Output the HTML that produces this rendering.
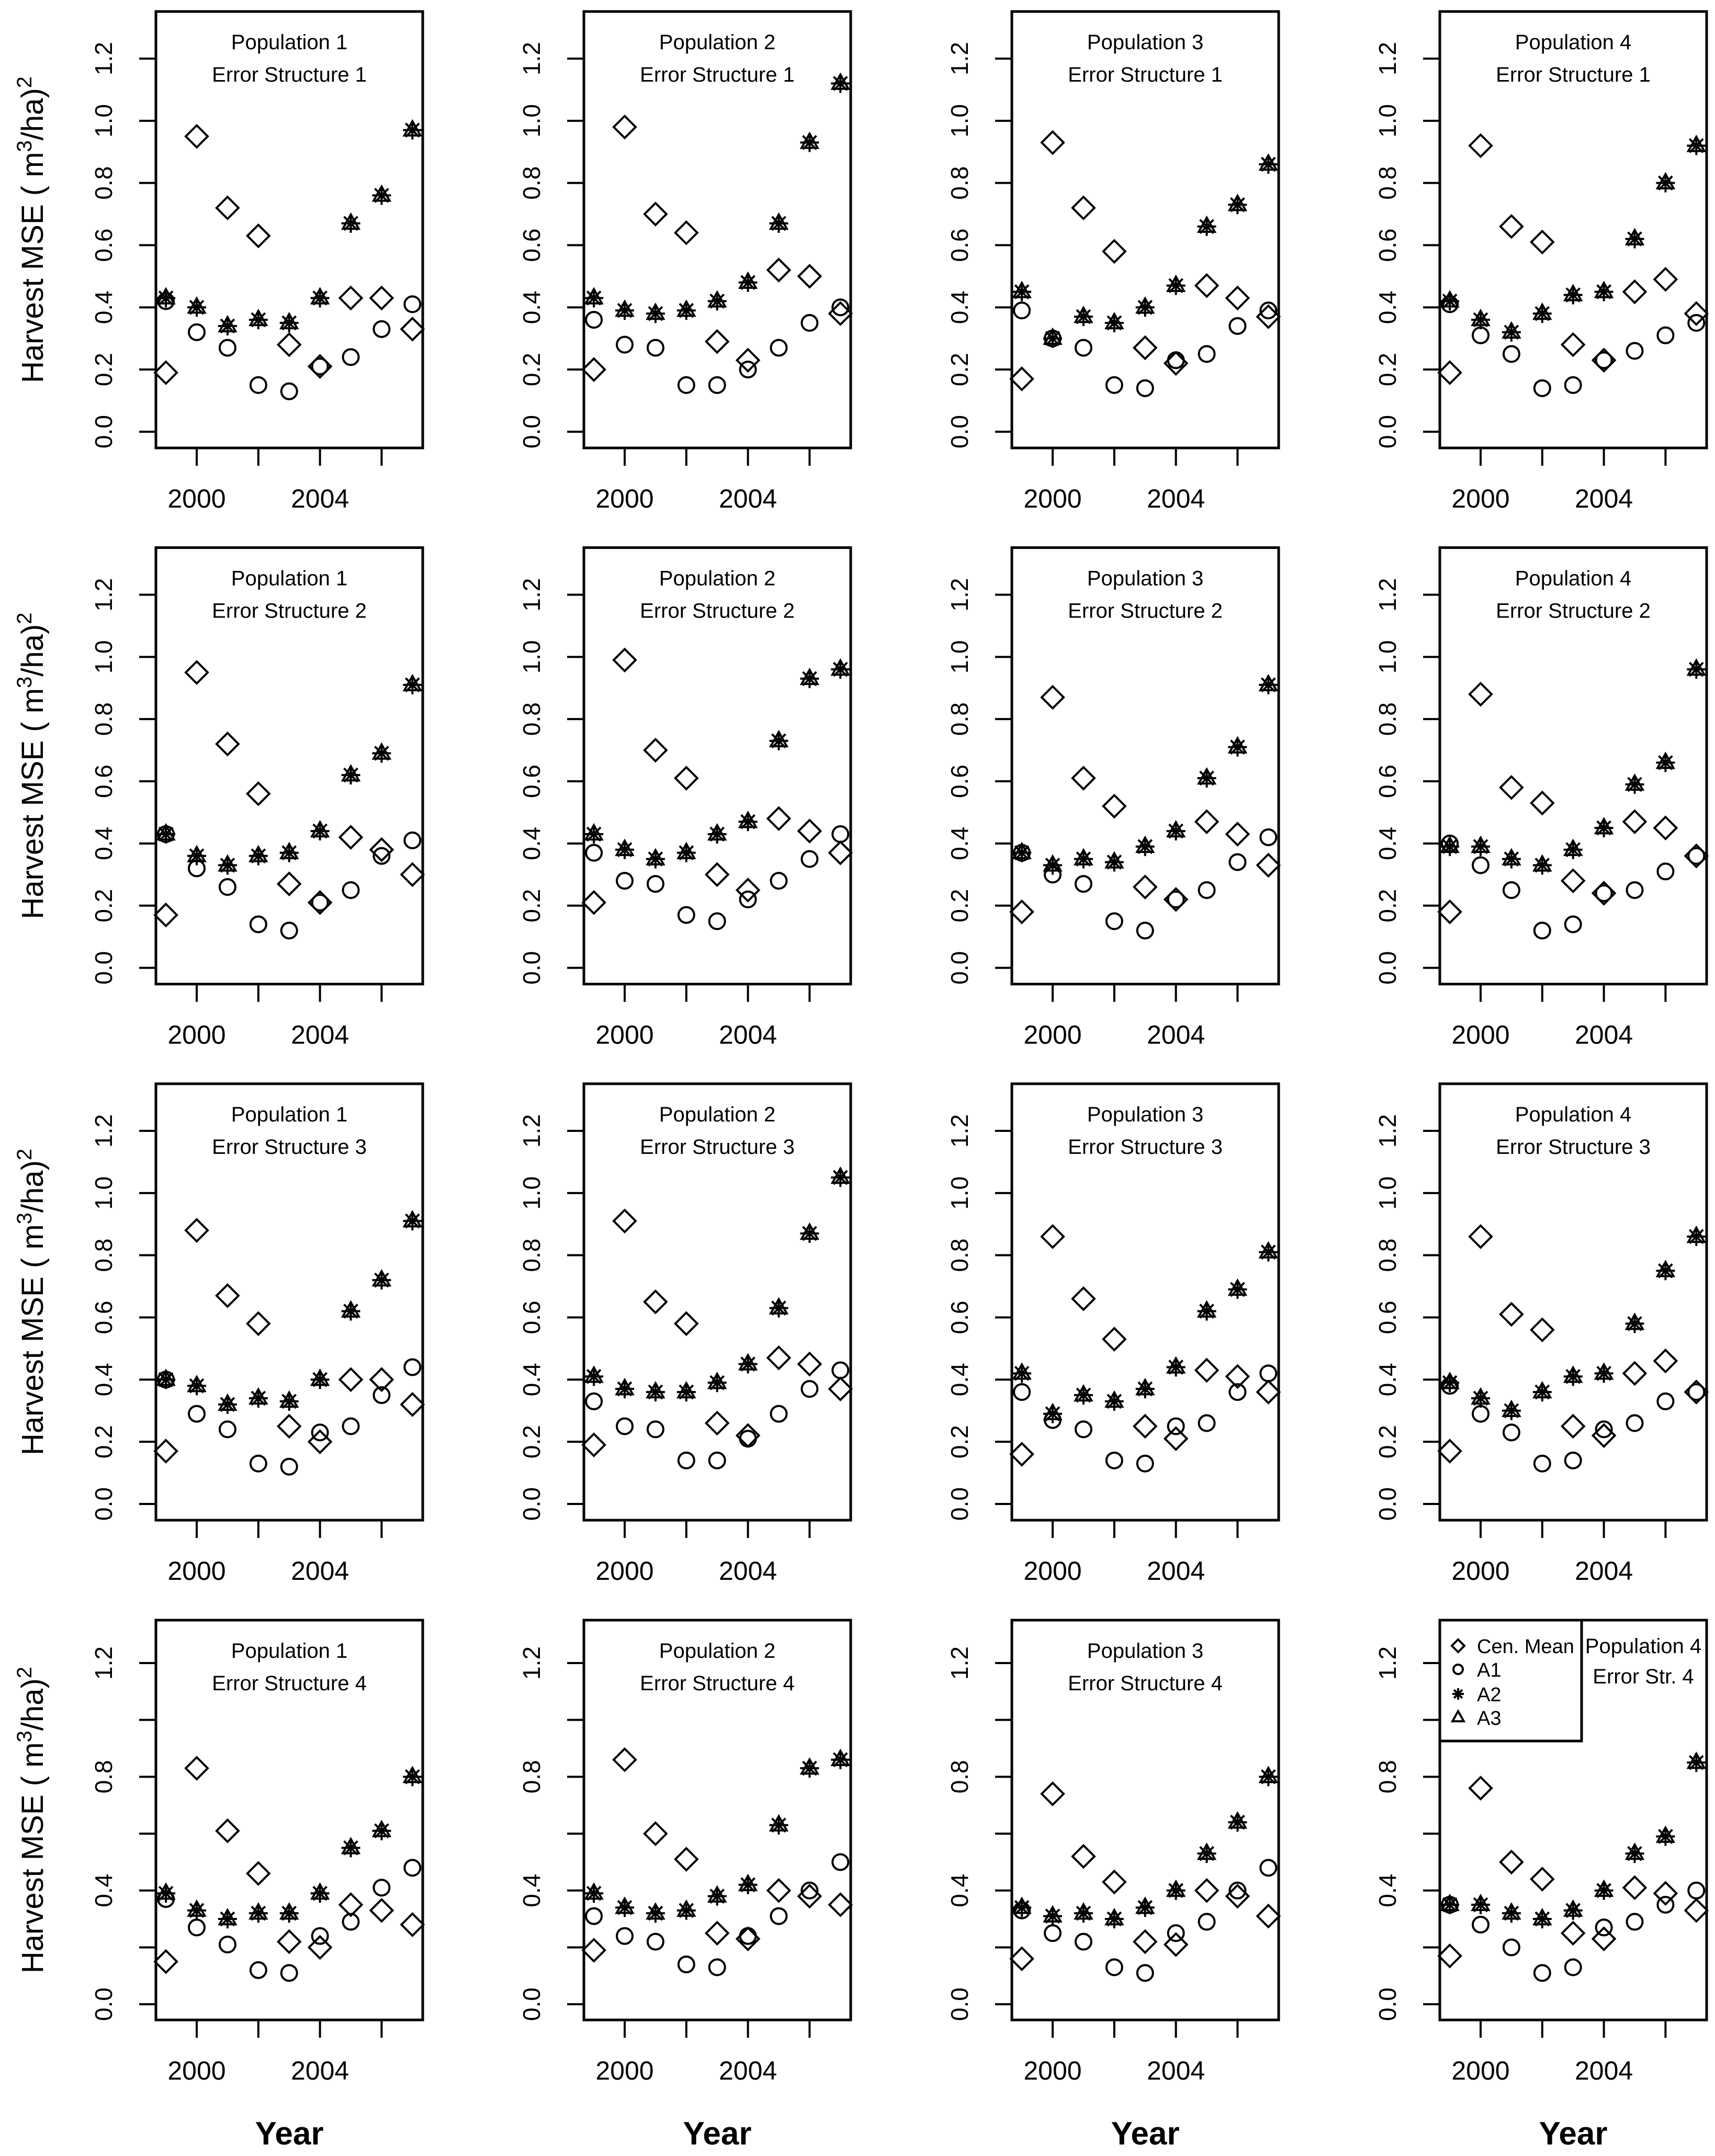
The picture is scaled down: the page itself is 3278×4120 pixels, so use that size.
<!DOCTYPE html>
<html><head><meta charset="utf-8"><style>
html,body{margin:0;padding:0;background:#fff}
svg{display:block}
text{font-family:"Liberation Sans",sans-serif;fill:#000}
</style></head>
<body>
<svg id="chart" width="3278" height="4120" viewBox="0 0 3278 4120" xmlns="http://www.w3.org/2000/svg"></svg>
<script>
const years = [1999,2000,2001,2002,2003,2004,2005,2006,2007];
// cenMean[row][col], a1[row][col], a2[row][col]; rows = error structure, cols = population
const cenMean = [
 [[.19,.95,.72,.63,.28,.21,.43,.43,.33],[.20,.98,.70,.64,.29,.23,.52,.50,.38],[.17,.93,.72,.58,.27,.22,.47,.43,.37],[.19,.92,.66,.61,.28,.23,.45,.49,.38]],
 [[.17,.95,.72,.56,.27,.21,.42,.38,.30],[.21,.99,.70,.61,.30,.25,.48,.44,.37],[.18,.87,.61,.52,.26,.22,.47,.43,.33],[.18,.88,.58,.53,.28,.24,.47,.45,.36]],
 [[.17,.88,.67,.58,.25,.20,.40,.40,.32],[.19,.91,.65,.58,.26,.22,.47,.45,.37],[.16,.86,.66,.53,.25,.21,.43,.41,.36],[.17,.86,.61,.56,.25,.22,.42,.46,.36]],
 [[.15,.83,.61,.46,.22,.20,.35,.33,.28],[.19,.86,.60,.51,.25,.23,.40,.38,.35],[.16,.74,.52,.43,.22,.21,.40,.38,.31],[.17,.76,.50,.44,.25,.23,.41,.39,.33]]
];
const a1 = [
 [[.42,.32,.27,.15,.13,.21,.24,.33,.41],[.36,.28,.27,.15,.15,.20,.27,.35,.40],[.39,.30,.27,.15,.14,.23,.25,.34,.39],[.41,.31,.25,.14,.15,.23,.26,.31,.35]],
 [[.43,.32,.26,.14,.12,.21,.25,.36,.41],[.37,.28,.27,.17,.15,.22,.28,.35,.43],[.37,.30,.27,.15,.12,.22,.25,.34,.42],[.40,.33,.25,.12,.14,.24,.25,.31,.36]],
 [[.40,.29,.24,.13,.12,.23,.25,.35,.44],[.33,.25,.24,.14,.14,.21,.29,.37,.43],[.36,.27,.24,.14,.13,.25,.26,.36,.42],[.38,.29,.23,.13,.14,.24,.26,.33,.36]],
 [[.37,.27,.21,.12,.11,.24,.29,.41,.48],[.31,.24,.22,.14,.13,.24,.31,.40,.50],[.33,.25,.22,.13,.11,.25,.29,.40,.48],[.35,.28,.20,.11,.13,.27,.29,.35,.40]]
];
const a2 = [
 [[.43,.40,.34,.36,.35,.43,.67,.76,.97],[.43,.39,.38,.39,.42,.48,.67,.93,1.12],[.45,.30,.37,.35,.40,.47,.66,.73,.86],[.42,.36,.32,.38,.44,.45,.62,.80,.92]],
 [[.43,.36,.33,.36,.37,.44,.62,.69,.91],[.43,.38,.35,.37,.43,.47,.73,.93,.96],[.37,.33,.35,.34,.39,.44,.61,.71,.91],[.39,.39,.35,.33,.38,.45,.59,.66,.96]],
 [[.40,.38,.32,.34,.33,.40,.62,.72,.91],[.41,.37,.36,.36,.39,.45,.63,.87,1.05],[.42,.29,.35,.33,.37,.44,.62,.69,.81],[.39,.34,.30,.36,.41,.42,.58,.75,.86]],
 [[.39,.33,.30,.32,.32,.39,.55,.61,.80],[.39,.34,.32,.33,.38,.42,.63,.83,.86],[.34,.31,.32,.30,.34,.40,.53,.64,.80],[.35,.35,.32,.30,.33,.40,.53,.59,.85]]
];
const a3 = a2; // A3 plotted coincident with A2
const yTickLabelsTop = ["0.0","0.2","0.4","0.6","0.8","1.0","1.2"];
const yTickLabelsBottom = ["0.0","","0.4","","0.8","","1.2"];
const yTickValues = [0,0.2,0.4,0.6,0.8,1.0,1.2];
const xTickYears = [2000,2002,2004,2006];
const xLabelYears = [2000,2004];

const NS="http://www.w3.org/2000/svg";
const svg=document.getElementById('chart');
function mk(tag,attrs,parent){const e=document.createElementNS(NS,tag);for(const k in attrs)e.setAttribute(k,attrs[k]);(parent||svg).appendChild(e);return e;}

function rowGeom(r){
  if(r<3){const T=22+r*1024.5;return {T:T,B:T+834,y0:T+803,unit:(803-90)/1.2};}
  return {T:3096,B:3860,y0:3830,unit:(3830-3178)/1.2};
}
function colGeom(c){const L=298+c*818;return {L:L,R:L+510,x2000:376+c*818};}

function drawDiamond(g,x,y,s){const e=mk('polygon',{points:`${x},${y-s} ${x+s},${y} ${x},${y+s} ${x-s},${y}`,fill:'none',stroke:'#000','stroke-width':4},g);}
function drawCircle(g,x,y,s){const e=mk('circle',{cx:x,cy:y,r:s,fill:'none',stroke:'#000','stroke-width':4},g);}
function drawStar(g,x,y,s){const gg=mk('g',{stroke:'#000','stroke-width':4},g);
  mk('line',{x1:x,y1:y-s,x2:x,y2:y+s},gg);mk('line',{x1:x-s,y1:y,x2:x+s,y2:y},gg);
  const d=s*0.72;mk('line',{x1:x-d,y1:y-d,x2:x+d,y2:y+d},gg);mk('line',{x1:x-d,y1:y+d,x2:x+d,y2:y-d},gg);}
function drawTri(g,x,y,s){const h=s*0.9;const e=mk('polygon',{points:`${x},${y-s} ${x+h},${y+s*0.6} ${x-h},${y+s*0.6}`,fill:'none',stroke:'#000','stroke-width':4},g);}

for(let r=0;r<4;r++){
  const rg=rowGeom(r);
  const yt=mk('text',{x:0,y:0,'font-size':58,'text-anchor':'middle',transform:`translate(82,${(rg.T+rg.B)/2}) rotate(-90)`});
  
  yt.innerHTML='Harvest MSE ( m<tspan font-size="40" dy="-22">3</tspan><tspan dy="22">/ha)</tspan><tspan font-size="40" dy="-22">2</tspan>';
  for(let c=0;c<4;c++){
    const cg=colGeom(c);
    const g=mk('g',{});
    const yS=v=>rg.y0-v*rg.unit;
    const xS=yr=>cg.x2000+(yr-2000)*58.9;
    const fr=mk('rect',{x:cg.L,y:rg.T,width:cg.R-cg.L,height:rg.B-rg.T,fill:'none',stroke:'#000','stroke-width':5},g);
    
    const labs=r<3?yTickLabelsTop:yTickLabelsBottom;
    yTickValues.forEach((v,i)=>{
      const y=yS(v);
      const t=mk('line',{x1:cg.L-32,y1:y,x2:cg.L,y2:y,stroke:'#000','stroke-width':4},g);
      
      if(labs[i]){const tl=mk('text',{x:0,y:0,'font-size':46,'text-anchor':'middle',transform:`translate(${cg.L-84},${y}) rotate(-90)`},g);
        tl.textContent=labs[i];}
    });
    xTickYears.forEach(yr=>{const t=mk('line',{x1:xS(yr),y1:rg.B,x2:xS(yr),y2:rg.B+34,stroke:'#000','stroke-width':4},g);
      });
    xLabelYears.forEach(yr=>{const t=mk('text',{x:xS(yr),y:rg.B+114,'font-size':50,'text-anchor':'middle'},g);
      t.textContent=yr;});
    if(!(r===3&&c===3)){
      const t1=mk('text',{x:(cg.L+cg.R)/2,y:rg.T+72,'font-size':40,'text-anchor':'middle'},g);
      t1.textContent=`Population ${c+1}`;
      const t2=mk('text',{x:(cg.L+cg.R)/2,y:rg.T+134,'font-size':40,'text-anchor':'middle'},g);
      t2.textContent=`Error Structure ${r+1}`;
    } else {
      const t1=mk('text',{x:3141,y:3159,'font-size':40,'text-anchor':'middle'},g);
      t1.textContent='Population 4';
      const t2=mk('text',{x:3141,y:3217,'font-size':40,'text-anchor':'middle'},g);
      t2.textContent='Error Str. 4';
    }
    years.forEach((yr,i)=>{
      const x=xS(yr);
      drawDiamond(g,x,yS(cenMean[r][c][i]),21);
      drawCircle(g,x,yS(a1[r][c][i]),15);
      drawTri(g,x,yS(a3[r][c][i]),17);
      drawStar(g,x,yS(a2[r][c][i]),18);
    });
    if(r===3){const yl=mk('text',{x:(cg.L+cg.R)/2,y:4098,'font-size':62,'font-weight':'bold','text-anchor':'middle'});
      yl.textContent='Year';}
  }
}
const lg=mk('g',{});
const lb=mk('rect',{x:2752,y:3096,width:271,height:231,fill:'#fff',stroke:'#000','stroke-width':5},lg);

const legNames=['Cen. Mean','A1','A2','A3'];
const legY=[3145,3190,3237,3282];
drawDiamond(lg,2787,legY[0],12);drawCircle(lg,2787,legY[1],9);drawStar(lg,2787,legY[2],11);drawTri(lg,2787,legY[3],12);
legNames.forEach((n,i)=>{const t=mk('text',{x:2823,y:legY[i]+14,'font-size':38},lg);
  t.textContent=n;});
</script>
</body></html>
